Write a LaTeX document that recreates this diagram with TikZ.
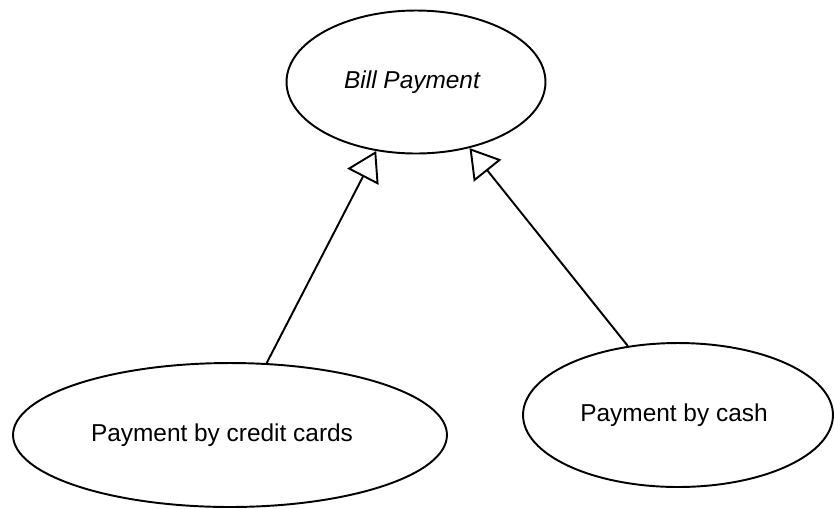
\documentclass[tikz,border=0pt]{standalone}
\usepackage{fontspec}
\setmainfont{Liberation Sans}
\usetikzlibrary{arrows.meta, shapes.geometric}
\tikzset{
	usecase/.style={draw, ellipse, line width=1.1pt, inner sep=0pt, font=\fontsize{13.9}{16}\selectfont},
	generalize/.style={line width=1.1pt, -{Triangle[open, length=0.58cm, width=0.7cm, line width=1.1pt]}}
}

\begin{document}
\begin{tikzpicture}[x=0.02cm, y=-0.02cm]
		\useasboundingbox(0, 0) rectangle (834, 508);
		\node[usecase, minimum width=5.18cm, minimum height=2.86cm](bill)at(416, 82){\itshape Bill Payment\kern0.16cm};
		\node[usecase, minimum width=8.68cm, minimum height=2.88cm](credit)at(230, 435){Payment by credit cards\kern0.32cm};
		\node[usecase, minimum width=6.2cm, minimum height=2.88cm](cash)at(678, 415){Payment by cash\kern0.16cm};
		\draw[generalize](credit.63)--(bill.240);
		\draw[generalize](cash.126)--(bill.309);
	\end{tikzpicture}
\end{document}
